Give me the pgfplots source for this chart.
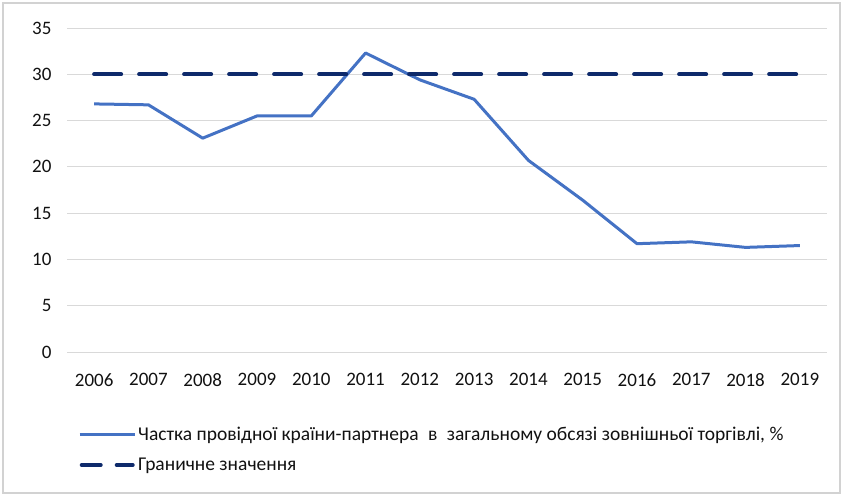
\documentclass[border=0pt]{standalone}
\usepackage{fontspec}
\setmainfont{Carlito}
\usepackage{pgfplots}
\pgfplotsset{compat=1.18}
\definecolor{serblue}{HTML}{4472C4}
\definecolor{navy}{HTML}{0E2A6B}
\definecolor{gridgray}{HTML}{D9D9D9}
\definecolor{txt}{HTML}{111111}
\begin{document}
\begin{tikzpicture}
\useasboundingbox (0pt,0pt) rectangle (843pt,496pt);
\draw[gray!35, line width=1.2pt] (3pt,3pt) rectangle (840pt,493pt);
\begin{axis}[
  at={(67pt,144pt)}, anchor=south west,
  scale only axis, width=760pt, height=324pt,
  xmin=-0.5, xmax=13.5, ymin=0, ymax=35,
  xtick={0,...,13},
  xticklabels={2006,2007,2008,2009,2010,2011,2012,2013,2014,2015,2016,2017,2018,2019},
  ytick={0,5,...,35},
  ymajorgrids, grid style={gridgray, line width=0.9pt},
  axis line style={draw=none},
  major tick length=0pt,
  tick label style={font=\fontsize{19}{22}\selectfont, text=txt},
  /pgf/number format/assume math mode=true,
  xticklabel style={yshift=-18pt},
  yticklabel style={xshift=-12pt},
  legend style={at={(0.0145,-0.225)}, anchor=north west, draw=none, fill=none,
    font=\fontsize{19.5}{22}\selectfont, text=txt, row sep=12pt, inner sep=0pt},
  legend cell align=left,
  legend image code/.code={\draw[#1] (0pt,0pt) -- (55pt,0pt);},
]
\addplot[serblue, line width=3pt, line join=round] coordinates {
(0,26.8) (1,26.7) (2,23.1) (3,25.5) (4,25.5) (5,32.3) (6,29.4) (7,27.3) (8,20.7) (9,16.4) (10,11.7) (11,11.9) (12,11.3) (13,11.5)};
\addlegendentry{Частка провідної країни-партнера\hspace{5pt} в\hspace{5pt} загальному обсязі зовнішньої торгівлі, \%}
\addplot[navy, line width=4pt, line cap=round, dash pattern=on 27pt off 18pt,
  legend image code/.code={\draw[navy, line width=4pt, line cap=round, dash pattern=on 19pt off 16pt] (2pt,0pt) -- (53pt,0pt);}] coordinates {
(0,30) (1,30) (2,30) (3,30) (4,30) (5,30) (6,30) (7,30) (8,30) (9,30) (10,30) (11,30) (12,30) (13,30)};
\addlegendentry{Граничне значення}
\end{axis}
\end{tikzpicture}
\end{document}
